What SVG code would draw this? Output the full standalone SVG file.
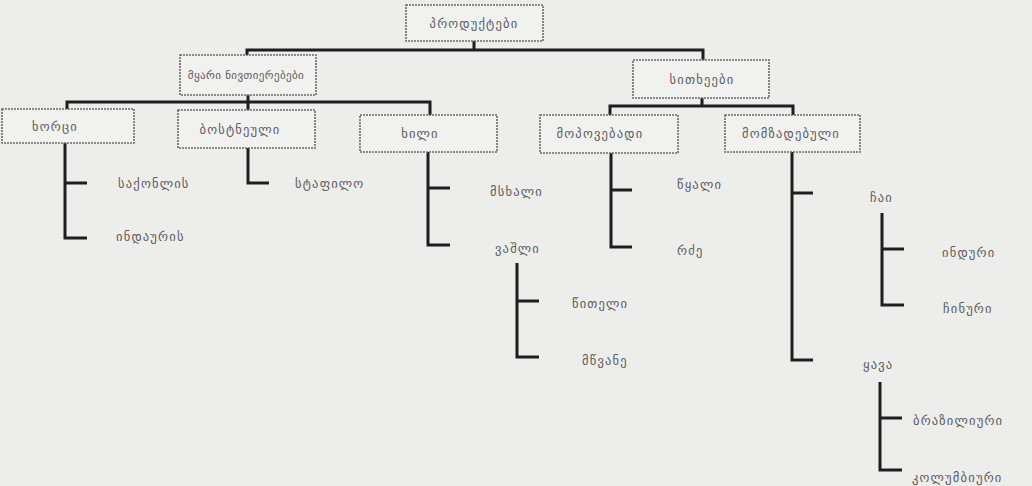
<svg xmlns="http://www.w3.org/2000/svg" width="1032" height="486" viewBox="0 0 1032 486">
<style>
.bg{fill:#ededec}
.box{fill:#f1f1f0;stroke:#6a6a6a;stroke-width:1.6;stroke-dasharray:2 1}
.t{font-family:"DejaVu Sans",sans-serif;font-size:12.5px;letter-spacing:1.2px;fill:#5a5a5a;dominant-baseline:central}
.c{text-anchor:middle}
.ln{stroke:#1e1e1e;stroke-width:3;fill:none;stroke-linecap:butt}
</style>
<rect class="bg" x="0" y="0" width="1032" height="486"/>
<g id="connectors">
<path class="ln" d="M474,41V50M247,50H703M247,48.5V55M703,48.5V60"/>
<path class="ln" d="M248,95V102M67,102H430M67,100.5V109M248,102V110M430,100.5V115"/>
<path class="ln" d="M702,98V106M610,106H793M610,104.5V115M793,104.5V115"/>
<path class="ln" d="M65,143V239.5M65,183H87M63.5,238H87"/>
<path class="ln" d="M248,148V184.5M246.5,183H269"/>
<path class="ln" d="M428,152V246.5M428,188H450M426.5,245H450"/>
<path class="ln" d="M517,263V358.5M517,301H539M515.5,357H539"/>
<path class="ln" d="M611,153V248.5M611,190H632M609.5,247H632"/>
<path class="ln" d="M792,152V361.5M792,193H813M790.5,360H813"/>
<path class="ln" d="M882,213V306.5M882,249H904M880.5,305H904"/>
<path class="ln" d="M880,382V471.5M880,418H902M878.5,470H902"/>
</g>
<g id="n-products"><rect class="box" x="406" y="5" width="137" height="36"/><text class="t c" x="474" y="23">პროდუქტები</text></g>
<g id="n-solids"><rect class="box" x="180" y="55" width="136" height="40"/><text class="t c" x="246" y="75" style="font-size:11px;letter-spacing:0.4px">მყარი ნივთიერებები</text></g>
<g id="n-liquids"><rect class="box" x="633" y="60" width="136" height="38"/><text class="t c" x="702" y="79">სითხეები</text></g>
<g id="n-meat"><rect class="box" x="2" y="109" width="132" height="34"/><text class="t c" x="55" y="126">ხორცი</text></g>
<g id="n-veg"><rect class="box" x="178" y="110" width="137" height="38"/><text class="t c" x="240" y="129">ბოსტნეული</text></g>
<g id="n-fruit"><rect class="box" x="360" y="115" width="137" height="37"/><text class="t c" x="420" y="133">ხილი</text></g>
<g id="n-extracted"><rect class="box" x="540" y="115" width="138" height="38"/><text class="t c" x="600" y="133">მოპოვებადი</text></g>
<g id="n-prepared"><rect class="box" x="725" y="115" width="135" height="37"/><text class="t c" x="791" y="133">მომზადებული</text></g>
<g id="n-beef"><text class="t" x="118" y="183">საქონლის</text></g>
<g id="n-turkey"><text class="t" x="116" y="236">ინდაურის</text></g>
<g id="n-carrot"><text class="t" x="295" y="183">სტაფილო</text></g>
<g id="n-pear"><text class="t" x="490" y="191">მსხალი</text></g>
<g id="n-apple"><text class="t" x="495" y="248">ვაშლი</text></g>
<g id="n-red"><text class="t" x="572" y="303">წითელი</text></g>
<g id="n-green"><text class="t" x="582" y="360">მწვანე</text></g>
<g id="n-water"><text class="t" x="677" y="184">წყალი</text></g>
<g id="n-milk"><text class="t" x="677" y="250">რძე</text></g>
<g id="n-tea"><text class="t" x="870" y="197">ჩაი</text></g>
<g id="n-indian"><text class="t" x="942" y="252">ინდური</text></g>
<g id="n-chinese"><text class="t" x="943" y="308">ჩინური</text></g>
<g id="n-coffee"><text class="t" x="863" y="364">ყავა</text></g>
<g id="n-brazil"><text class="t" x="913" y="420">ბრაზილიური</text></g>
<g id="n-colombia"><text class="t" x="912" y="477">კოლუმბიური</text></g>
</svg>
